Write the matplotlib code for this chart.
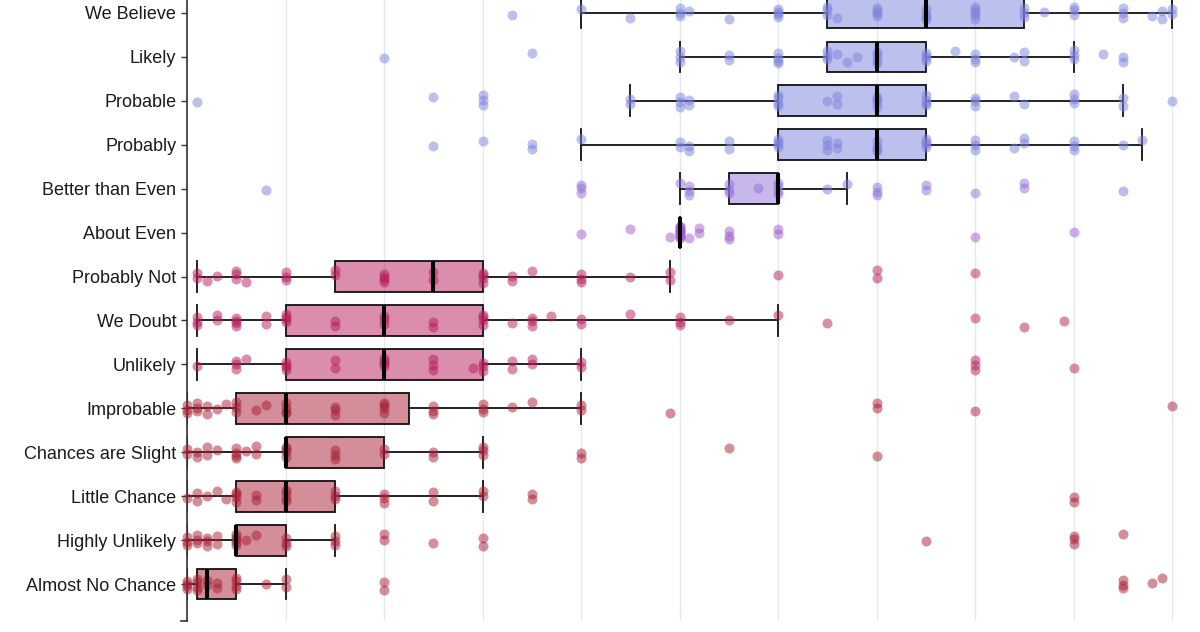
import numpy as np
import matplotlib
matplotlib.use("Agg")
import matplotlib.pyplot as plt

# ---------------- data ----------------
categories = ["We Believe", "Likely", "Probable", "Probably", "Better than Even",
              "About Even", "Probably Not", "We Doubt", "Unlikely", "Improbable",
              "Chances are Slight", "Little Chance", "Highly Unlikely", "Almost No Chance"]

we_believe = [33, 40, 45, 50, 50, 50, 51, 55, 60, 60, 60, 60, 65, 65, 65, 66, 70, 70, 70, 70,
              75, 75, 75, 75, 80, 80, 80, 80, 80, 85, 85, 85, 87, 90, 90, 90, 95, 95, 95, 98,
              99, 99, 100, 100]
likely = [20, 35, 50, 50, 50, 55, 55, 60, 60, 60, 60, 65, 65, 65, 66, 67, 68, 70, 70, 70, 70,
          75, 75, 75, 75, 78, 80, 80, 80, 84, 85, 85, 90, 90, 90, 93, 95, 95]
probable = [1, 25, 30, 30, 30, 45, 45, 50, 50, 50, 51, 51, 60, 60, 60, 60, 65, 66, 66, 70, 70,
            70, 70, 75, 75, 75, 75, 80, 80, 80, 84, 85, 90, 90, 90, 95, 95, 100]
probably = [25, 30, 35, 35, 40, 50, 50, 51, 51, 55, 55, 60, 60, 60, 60, 65, 65, 65, 66, 66, 70,
            70, 70, 70, 75, 75, 75, 75, 80, 80, 80, 84, 85, 85, 90, 90, 90, 95, 97]
better_than_even = [8, 40, 40, 40, 50, 51, 51, 51, 55, 55, 55, 58, 60, 60, 60, 60, 65, 67, 70,
                    70, 70, 75, 75, 80, 85, 85, 95]
about_even = [40, 45, 49, 50, 50, 50, 50, 50, 50, 50, 50, 50, 50, 50, 50, 51, 52, 52, 55, 55,
              55, 60, 60, 80, 90]
probably_not = [1, 1, 2, 3, 5, 5, 5, 6, 10, 10, 10, 15, 15, 20, 20, 20, 20, 25, 25, 30, 30, 30,
                30, 33, 33, 35, 40, 40, 40, 45, 49, 49, 60, 70, 70, 80]
we_doubt = [1, 1, 1, 3, 3, 5, 5, 5, 5, 8, 8, 10, 10, 10, 10, 15, 15, 20, 20, 20, 25, 25, 30, 30,
            30, 30, 33, 35, 35, 35, 37, 40, 40, 45, 50, 50, 50, 55, 60, 65, 80, 85, 89]
unlikely = [1, 5, 5, 5, 6, 10, 10, 10, 10, 15, 15, 20, 20, 20, 20, 25, 25, 25, 29, 30, 30, 30,
            33, 33, 35, 35, 40, 40, 80, 80, 80, 90]
improbable = [0, 0, 0, 1, 1, 1, 2, 2, 3, 4, 5, 5, 5, 7, 8, 10, 10, 10, 10, 15, 15, 15, 20, 20,
              20, 20, 25, 25, 25, 30, 30, 30, 33, 35, 40, 40, 49, 70, 70, 80, 100]
chances_are_slight = [0, 0, 1, 1, 2, 2, 3, 5, 5, 5, 5, 6, 7, 7, 10, 10, 10, 10, 15, 15, 15, 20,
                      20, 25, 25, 30, 30, 30, 40, 40, 55, 70]
little_chance = [0, 1, 1, 2, 3, 4, 5, 5, 5, 5, 7, 7, 10, 10, 10, 10, 15, 15, 15, 20, 20, 20, 25,
                 25, 30, 30, 35, 35, 90, 90]
highly_unlikely = [0, 0, 0, 1, 1, 1, 2, 2, 2, 3, 3, 5, 5, 5, 5, 5, 6, 7, 10, 10, 10, 15, 15, 15,
                   20, 20, 25, 30, 30, 75, 90, 90, 90, 95]
almost_no_chance = [0, 0, 0, 0, 1, 1, 1, 1, 2, 2, 3, 3, 5, 5, 5, 5, 8, 10, 10, 20, 20, 95, 95,
                    95, 98, 99]

values = [we_believe, likely, probable, probably, better_than_even, about_even, probably_not,
          we_doubt, unlikely, improbable, chances_are_slight, little_chance, highly_unlikely,
          almost_no_chance]

# box statistics
whisker_low = [40, 50, 45, 40, 50, 50, 1, 1, 1, 0, 0, 0, 0, 0]
q1 = [65, 65, 60, 60, 55, 50, 15, 10, 10, 5, 10, 5, 5, 1]
median = [75, 70, 70, 70, 60, 50, 25, 20, 20, 10, 10, 10, 5, 2]
q3 = [85, 75, 75, 75, 60, 50, 30, 30, 30, 22.5, 20, 15, 10, 5]
whisker_high = [100, 90, 95, 97, 67, 50, 49, 60, 40, 40, 30, 30, 15, 10]

# ---------------- style ----------------
BLUE = "#7b83dc"
VIOLET = "#9270d8"
PURPLE = "#a05ccc"
PINK = "#b61d5c"
RED = "#a81e34"
row_colors = [BLUE, BLUE, BLUE, BLUE, VIOLET, PURPLE, PINK, PINK, PINK,
              RED, RED, RED, RED, RED]

W, H, DPI = 1200, 632, 100
fig = plt.figure(figsize=(W / DPI, H / DPI), dpi=DPI)
fig.patch.set_facecolor("white")

px_per_unit = 9.85
left_px, bottom_px = 187, 621
n = len(categories)
pad_rows = 0.84
row_px = 44
top_px = 13 - pad_rows * row_px
ax = fig.add_axes([left_px / W, 1 - bottom_px / H, (W - left_px) / W, (bottom_px - top_px) / H])
ax.set_xlim(0, (W - left_px) / px_per_unit)
ax.set_ylim(n - 1 + pad_rows, -pad_rows)

positions = np.arange(n)
stats = []
for i in range(n):
    stats.append(dict(med=median[i], q1=q1[i], q3=q3[i],
                      whislo=whisker_low[i], whishi=whisker_high[i], fliers=[]))

bp = ax.bxp(stats, positions=positions, orientation="horizontal", widths=0.7,
            capwidths=0.7, patch_artist=True, showfliers=False,
            boxprops=dict(edgecolor="#111111", linewidth=1.3),
            whiskerprops=dict(color="#111111", linewidth=1.3),
            capprops=dict(color="#111111", linewidth=1.3),
            medianprops=dict(color="#000000", linewidth=2.9, solid_capstyle="butt"))
for patch, c in zip(bp["boxes"], row_colors):
    patch.set_facecolor(matplotlib.colors.to_rgba(c, 0.5))
    patch.set_zorder(1)
for ln in bp["whiskers"] + bp["caps"]:
    ln.set_zorder(1.5)
for ln in bp["medians"]:
    ln.set_zorder(4)

# jittered points (deterministic vertical spread)
for i, vals in enumerate(values):
    v = np.asarray(vals, dtype=float)
    j = np.arange(len(v))
    offs = (((j + 1) * 0.6180339887) % 1.0 - 0.5) * 0.30
    ax.scatter(v, i + offs, s=52, color=row_colors[i], alpha=0.5, linewidths=0,
               zorder=3, clip_on=False)

# grid & axes
ax.set_xticks(np.arange(0, 101, 10))
ax.tick_params(axis="x", length=0, labelbottom=False)
ax.grid(axis="x", color="#e2e8ee", linewidth=1.0, zorder=0)
ax.set_axisbelow(True)
for s in ["top", "right", "bottom"]:
    ax.spines[s].set_visible(False)
ax.spines["left"].set_color("#333333")
ax.spines["left"].set_linewidth(1.2)

ax.set_yticks(positions)
ax.set_yticklabels(categories, fontsize=13, family="Liberation Sans", color="#1a1a1a")
ax.tick_params(axis="y", length=4.3, width=1.0, color="#333333", pad=3.4)

# outer tick at bottom end of the axis line
ax.plot([-6 / px_per_unit, 0], [n - 1 + pad_rows] * 2, color="#333333", linewidth=1.2,
        clip_on=False, zorder=5)

fig.savefig("out.png", dpi=DPI, facecolor="white")
